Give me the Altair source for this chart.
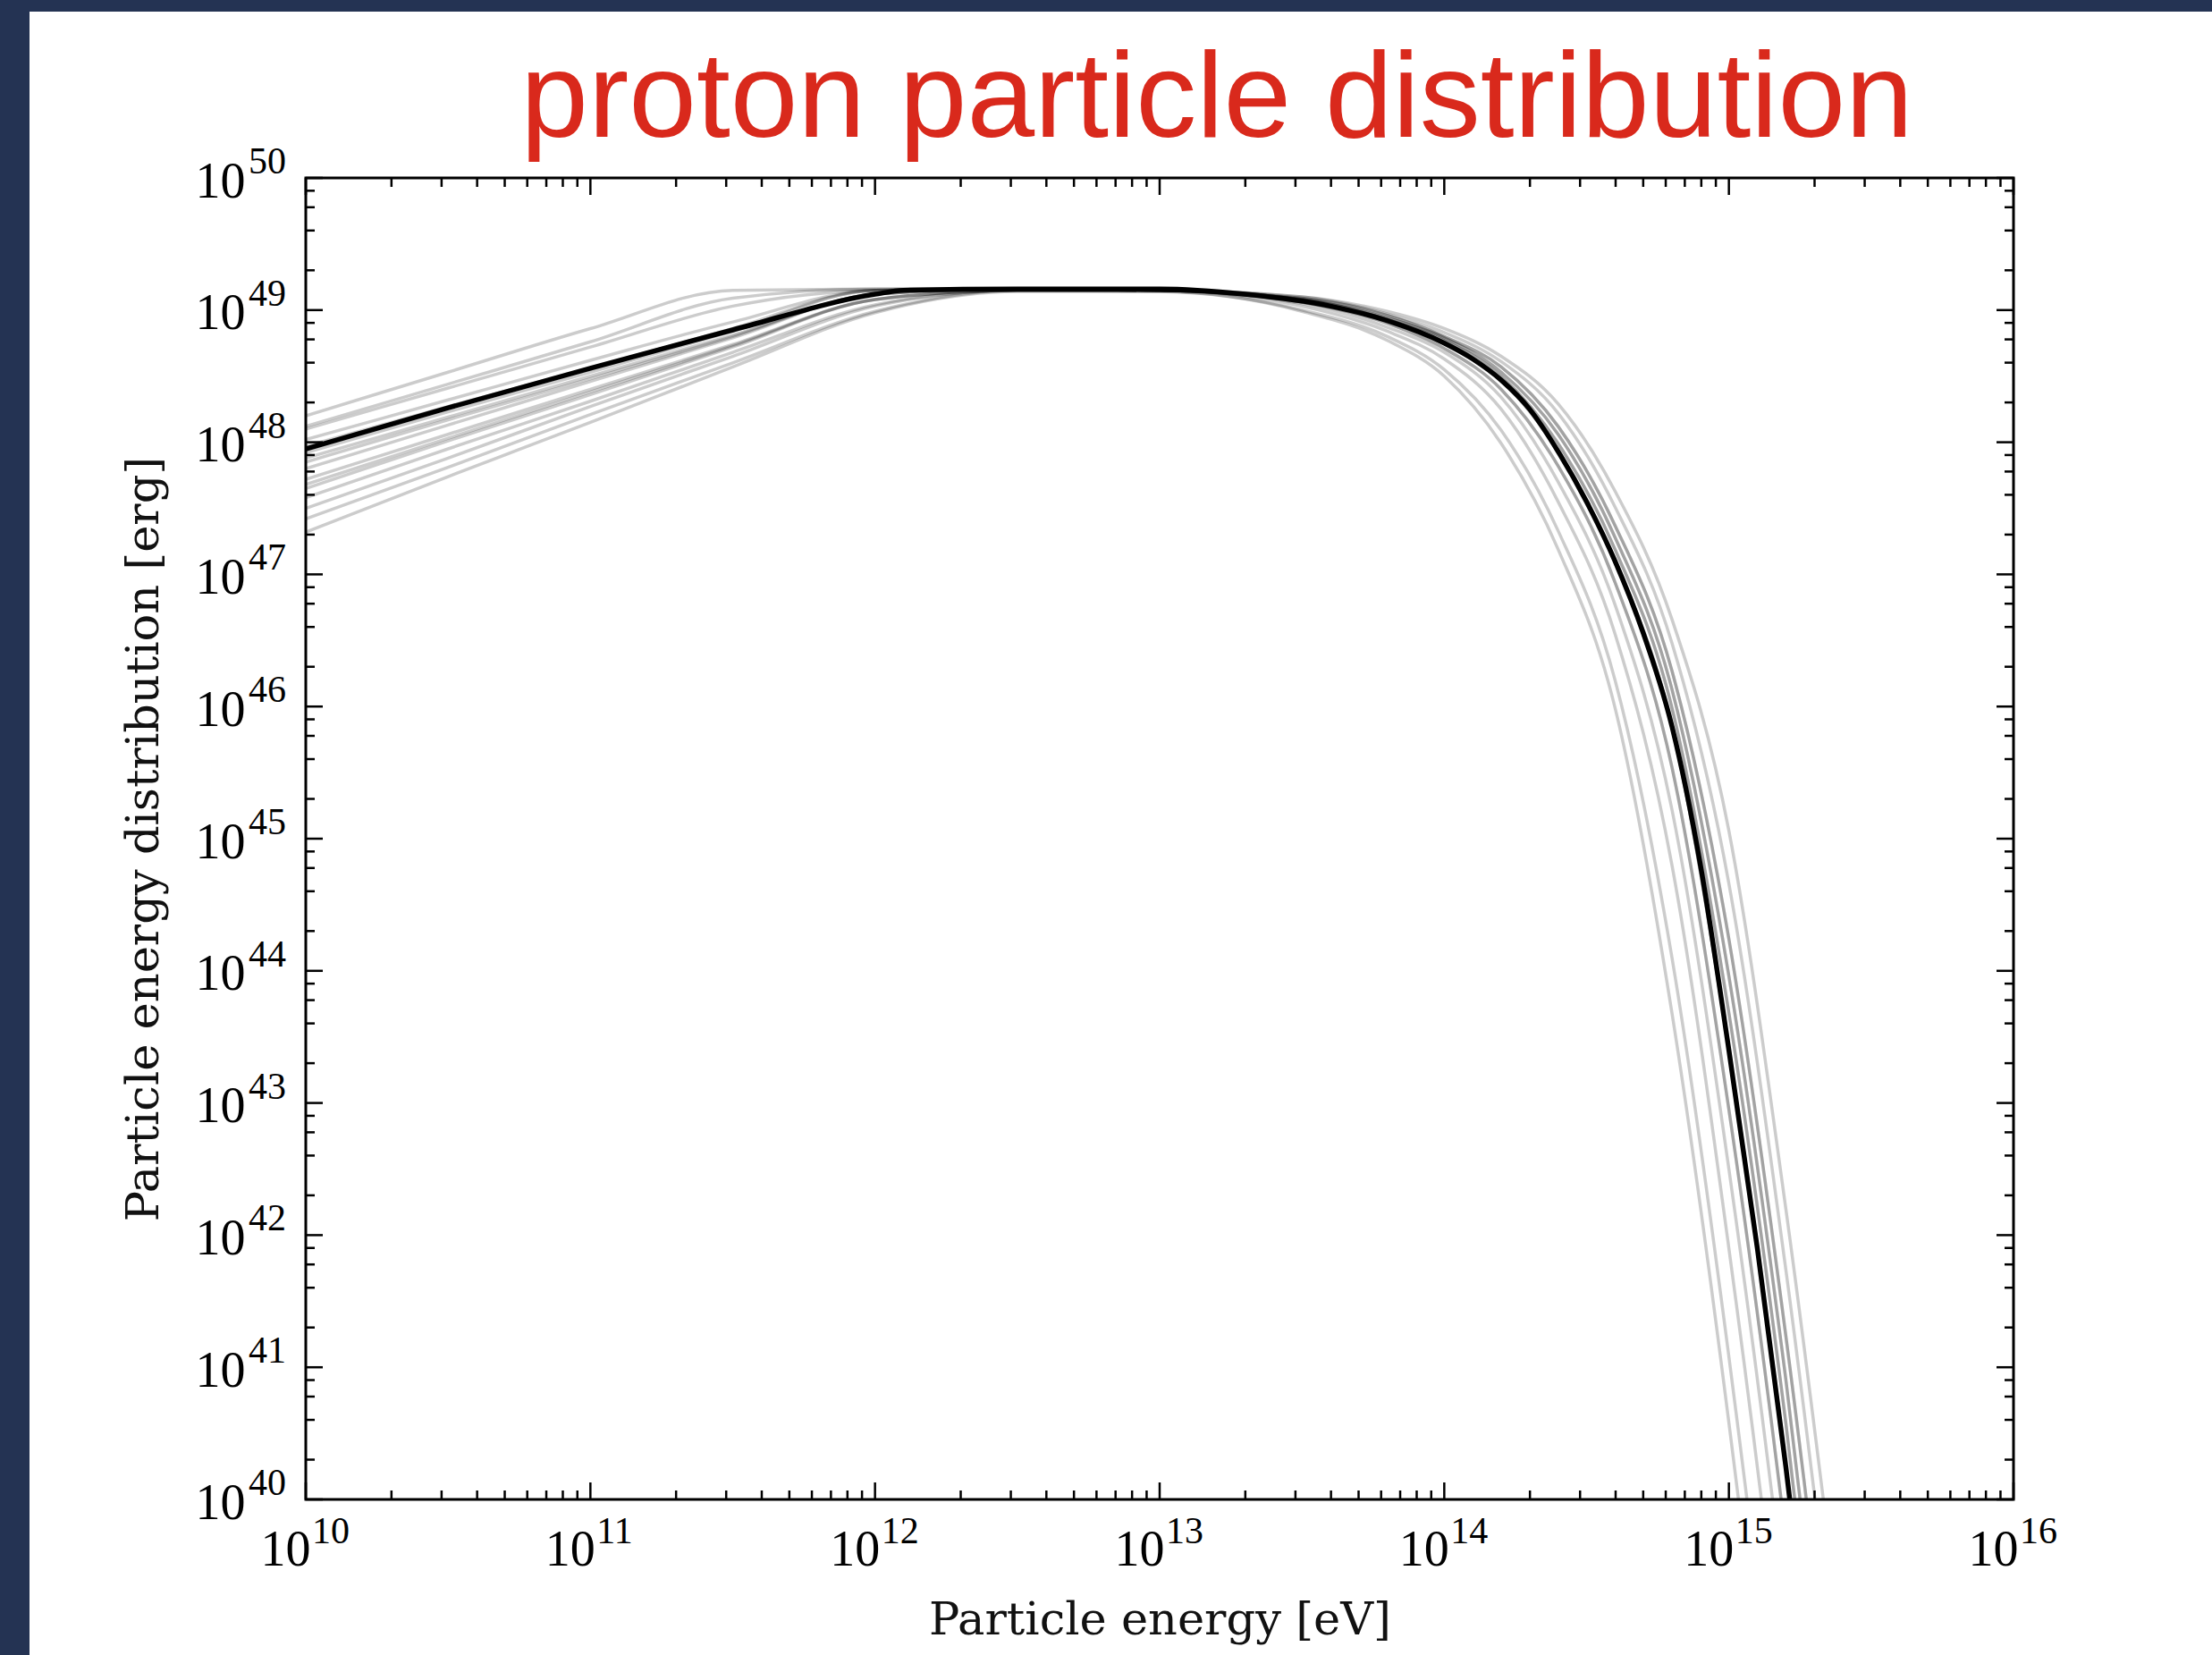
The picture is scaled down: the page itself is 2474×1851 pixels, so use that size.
import altair as alt
import pandas as pd

# ---------------- layout constants (pixels) ----------------
W, H = 1910, 1478
PAD_L, PAD_T = 342, 199
PAD_R = 2474 - PAD_L - W
PAD_B = 1851 - PAD_T - H

TITLE = "proton particle distribution"
X_TITLE = "Particle energy [eV]"
Y_TITLE = "Particle energy distribution [erg]"

# ---------------- data (log10 values) ----------------
main_logE = [10.0, 10.5, 11.0, 11.5, 12.0, 12.1, 12.5, 13.0, 13.3, 13.6, 13.8, 14.0,
             14.1, 14.2, 14.3, 14.4, 14.5, 14.6, 14.7, 14.8, 14.9, 15.0, 15.1, 15.2,
             15.3, 15.4]
main_logN = [47.95, 48.26, 48.56, 48.85, 49.12, 49.15, 49.16, 49.16, 49.12, 49.03, 48.92, 48.75,
             48.63, 48.47, 48.25, 47.93, 47.55, 47.10, 46.55, 45.85, 44.80, 43.40, 41.90, 40.25,
             38.45, 36.50]

sample_logE = [10.0, 10.5, 11.0, 11.5, 12.0, 12.5, 13.0, 13.5, 13.8, 14.0, 14.2, 14.4,
               14.6, 14.8, 15.0, 15.2, 15.4]
samples_logN = [
    [48.20, 48.53, 48.86, 49.15, 49.16, 49.16, 49.15, 49.08, 48.94, 48.79, 48.53, 48.06, 47.28, 46.13, 43.96, 40.91, 37.28],
    [48.10, 48.41, 48.72, 49.03, 49.15, 49.16, 49.15, 49.03, 48.84, 48.63, 48.25, 47.55, 46.55, 44.80, 41.90, 38.45, 34.40],
    [48.02, 48.32, 48.62, 48.91, 49.15, 49.16, 49.15, 49.08, 48.93, 48.77, 48.50, 47.99, 47.19, 45.99, 43.68, 40.58, 36.89],
    [47.97, 48.27, 48.56, 48.86, 49.15, 49.16, 49.15, 49.07, 48.92, 48.75, 48.47, 47.93, 47.10, 45.85, 43.40, 40.25, 36.50],
    [47.88, 48.19, 48.50, 48.81, 49.12, 49.16, 49.15, 49.06, 48.90, 48.71, 48.40, 47.82, 46.94, 45.54, 42.95, 39.71, 35.87],
    [47.80, 48.13, 48.46, 48.79, 49.12, 49.16, 49.15, 49.09, 48.96, 48.80, 48.57, 48.12, 47.37, 46.27, 44.24, 41.24, 37.67],
    [47.72, 48.06, 48.40, 48.74, 49.08, 49.15, 49.15, 49.05, 48.87, 48.68, 48.34, 47.70, 46.77, 45.22, 42.50, 39.17, 35.24],
    [47.65, 48.01, 48.36, 48.72, 49.08, 49.15, 49.15, 49.10, 48.97, 48.83, 48.61, 48.22, 47.51, 46.48, 44.66, 41.74, 38.26],
    [47.58, 47.95, 48.31, 48.68, 49.04, 49.15, 49.14, 49.00, 48.80, 48.55, 48.09, 47.33, 46.20, 44.10, 41.08, 37.48, 33.25],
    [47.50, 47.88, 48.27, 48.65, 49.03, 49.15, 49.15, 49.10, 48.99, 48.86, 48.65, 48.29, 47.63, 46.66, 45.06, 42.20, 38.81],
    [47.42, 47.81, 48.21, 48.60, 48.99, 49.15, 49.15, 49.07, 48.92, 48.75, 48.47, 47.93, 47.10, 45.85, 43.40, 40.25, 36.50],
    [47.32, 47.74, 48.15, 48.57, 48.98, 49.14, 49.14, 48.99, 48.77, 48.50, 47.99, 47.19, 45.99, 43.68, 40.58, 36.89, 32.56],
    [47.92, 48.23, 48.53, 48.84, 49.15, 49.16, 49.15, 49.08, 48.93, 48.77, 48.50, 47.99, 47.19, 45.99, 43.68, 40.58, 36.89],
    [47.85, 48.17, 48.48, 48.80, 49.12, 49.16, 49.15, 49.06, 48.90, 48.71, 48.40, 47.82, 46.94, 45.54, 42.95, 39.71, 35.87],
    [48.12, 48.44, 48.76, 49.09, 49.16, 49.16, 49.15, 49.09, 48.96, 48.80, 48.57, 48.12, 47.37, 46.27, 44.24, 41.24, 37.67],
    [47.68, 48.03, 48.38, 48.73, 49.08, 49.15, 49.15, 49.08, 48.94, 48.79, 48.53, 48.06, 47.28, 46.13, 43.96, 40.91, 37.28],
]

x_major_exp = [10, 11, 12, 13, 14, 15, 16]
y_major_exp = [40, 41, 42, 43, 44, 45, 46, 47, 48, 49, 50]
x_minor_mant = [2, 3, 4, 5, 6, 7, 8, 9]
y_minor_mant = [2, 4, 6, 8]

# ---------------- tables ----------------
main_df = pd.DataFrame({"E": [10 ** v for v in main_logE],
                        "N": [10 ** v for v in main_logN]})
rows = []
for i, s in enumerate(samples_logN):
    for e, n in zip(sample_logE, s):
        rows.append({"sample": i, "E": 10 ** e, "N": 10 ** n})
samp_df = pd.DataFrame(rows)

x_maj = pd.DataFrame({"E": [10.0 ** k for k in x_major_exp],
                      "t": [str(k) for k in x_major_exp]})
y_maj = pd.DataFrame({"N": [10.0 ** k for k in y_major_exp],
                      "t": [str(k) for k in y_major_exp]})
x_min = pd.DataFrame({"E": [m * 10.0 ** k for k in x_major_exp[:-1] for m in x_minor_mant]})
y_min = pd.DataFrame({"N": [m * 10.0 ** k for k in y_major_exp[:-1] for m in y_minor_mant]})
one = pd.DataFrame({"a": [0]})

# ---------------- scales & axes ----------------
XS = alt.Scale(type="log", domain=[1e10, 1e16], nice=False)
YS = alt.Scale(type="log", domain=[1e40, 1e50], nice=False)

SERIF_NUM = "Liberation Serif"
SERIF_TXT = "DejaVu Serif"
NAVY = "#243353"
RED = "#d9291c"
MAJ, MIN, TW = 19, 10, 2.5

XA = alt.Axis(
    values=[10.0 ** k for k in x_major_exp], labelExpr="'10'",
    ticks=False, tickSize=0, domain=False, grid=False,
    labelFont=SERIF_NUM, labelFontSize=56, labelColor="black",
    labelAlign="right", labelOffset=5, labelBaseline="alphabetic", labelPadding=73,
    labelOverlap=False, labelFlush=False,
    title=X_TITLE, titleFont=SERIF_TXT, titleFontSize=51, titleFontWeight="normal",
    titleColor="#111111", titleBaseline="alphabetic", titleAlign="center",
    titleX=W / 2, titleY=150)
YA = alt.Axis(
    values=[10.0 ** k for k in y_major_exp], labelExpr="'10'",
    ticks=False, tickSize=0, domain=False, grid=False,
    labelFont=SERIF_NUM, labelFontSize=56, labelColor="black",
    labelAlign="right", labelBaseline="alphabetic", labelOffset=21, labelPadding=68,
    labelOverlap=False, labelFlush=False,
    title=Y_TITLE, titleFont=SERIF_TXT, titleFontSize=51, titleFontWeight="normal",
    titleColor="#111111", titleBaseline="alphabetic", titleAlign="center",
    titleAngle=270, titleX=-166, titleY=H / 2)

X = alt.X("E:Q", scale=XS, axis=XA)
Y = alt.Y("N:Q", scale=YS, axis=YA)

# navy frame of the slide
navy_left = alt.Chart(one).mark_rect(color=NAVY).encode(
    x=alt.value(-PAD_L), x2=alt.value(-PAD_L + 33),
    y=alt.value(-PAD_T), y2=alt.value(H + PAD_B))
navy_top = alt.Chart(one).mark_rect(color=NAVY).encode(
    x=alt.value(-PAD_L), x2=alt.value(W + PAD_R),
    y=alt.value(-PAD_T), y2=alt.value(-PAD_T + 13))

samples = alt.Chart(samp_df).mark_line(
    color="black", opacity=0.2, strokeWidth=3.5, clip=True, interpolate="monotone"
).encode(x=X, y=Y, detail="sample:N")

main = alt.Chart(main_df).mark_line(
    color="black", strokeWidth=5.5, clip=True, interpolate="monotone"
).encode(x=X, y=Y)

def xticks(df, length):
    b = alt.Chart(df).mark_rule(color="black", strokeWidth=TW).encode(
        x=X, y=alt.value(H), y2=alt.value(H - length))
    t = alt.Chart(df).mark_rule(color="black", strokeWidth=TW).encode(
        x=X, y=alt.value(0), y2=alt.value(length))
    return [b, t]

def yticks(df, length):
    l = alt.Chart(df).mark_rule(color="black", strokeWidth=TW).encode(
        y=Y, x=alt.value(0), x2=alt.value(length))
    r = alt.Chart(df).mark_rule(color="black", strokeWidth=TW).encode(
        y=Y, x=alt.value(W), x2=alt.value(W - length))
    return [l, r]

ticks = xticks(x_maj, MAJ) + xticks(x_min, MIN) + yticks(y_maj, MAJ) + yticks(y_min, MIN)

x_exp = alt.Chart(x_maj).mark_text(
    font=SERIF_NUM, fontSize=42, color="black", align="left", baseline="alphabetic", dx=7
).encode(x=X, y=alt.value(H + 49), text="t:N")

y_exp = alt.Chart(y_maj).mark_text(
    font=SERIF_NUM, fontSize=42, color="black", align="right", baseline="alphabetic", dy=-5
).encode(y=Y, x=alt.value(-22), text="t:N")

title = alt.Chart(one).mark_text(
    text=TITLE, font="Liberation Sans", fontSize=136, color=RED,
    align="center", baseline="alphabetic"
).encode(x=alt.value(1019), y=alt.value(-46))

chart = alt.layer(
    navy_left, navy_top, samples, main, *ticks, x_exp, y_exp, title
).properties(
    width=W, height=H,
    autosize=alt.AutoSizeParams(type="none"),
    padding={"left": PAD_L, "top": PAD_T, "right": PAD_R, "bottom": PAD_B},
).configure(background="white").configure_view(stroke="black", strokeWidth=3)

chart.save("out.html", embed_options={"renderer": "svg", "actions": False})
